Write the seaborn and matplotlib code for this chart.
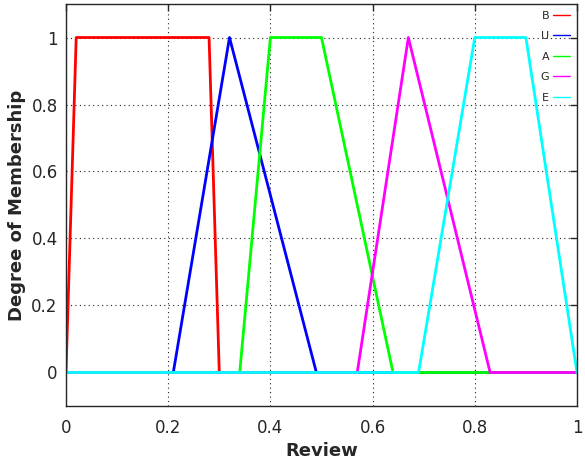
import pandas as pd
import matplotlib
matplotlib.use("Agg")
import matplotlib.pyplot as plt
import seaborn as sns

# membership functions (breakpoints on the Review axis)
labels = ["B", "U", "A", "G", "E"]
colors = ["#ff0000", "#0000ff", "#00ff00", "#ff00ff", "#00ffff"]
B_x = [0.0, 0.0, 0.02, 0.28, 0.30, 1.0]
B_y = [0, 0, 1, 1, 0, 0]
U_x = [0.0, 0.21, 0.32, 0.49, 1.0]
U_y = [0, 0, 1, 0, 0]
A_x = [0.0, 0.34, 0.40, 0.50, 0.64, 1.0]
A_y = [0, 0, 1, 1, 0, 0]
G_x = [0.0, 0.57, 0.67, 0.83, 1.0]
G_y = [0, 0, 1, 0, 0]
E_x = [0.0, 0.69, 0.80, 0.90, 1.0]
E_y = [0, 0, 1, 1, 0]

xs = [B_x, U_x, A_x, G_x, E_x]
ys = [B_y, U_y, A_y, G_y, E_y]

sns.set_style("white")
plt.rcParams["font.family"] = ["DejaVu Sans"]

fig = plt.figure(figsize=(5.85, 4.66), dpi=100)
ax = fig.add_axes([0.1128, 0.1288, 0.8735, 0.8626])

for lab, col, x, y in zip(labels, colors, xs, ys):
    df = pd.DataFrame({"Review": x, "mu": y})
    sns.lineplot(data=df, x="Review", y="mu", ax=ax, color=col, linewidth=2,
                 label=lab, sort=False, estimator=None)

ax.set_xlim(0, 1)
ax.set_ylim(-0.1, 1.1)
ticks = [0, 0.2, 0.4, 0.6, 0.8, 1]
tick_labels = ["0", "0.2", "0.4", "0.6", "0.8", "1"]
ax.set_xticks(ticks)
ax.set_xticklabels(tick_labels)
ax.set_yticks(ticks)
ax.set_yticklabels(tick_labels)
ax.tick_params(direction="in", top=True, right=True, length=5, width=1,
               labelsize=12, colors="#262626", pad=6)
ax.tick_params(axis="x", pad=9.5)
ax.grid(True, linestyle=(0, (1, 3)), color="#222222", linewidth=0.8)
for s in ax.spines.values():
    s.set_color("#262626")
    s.set_linewidth(1)

ax.set_xlabel("Review", fontsize=13, fontweight="bold", labelpad=3.5)
ax.set_ylabel("Degree of Membership", fontsize=13, fontweight="bold", labelpad=4)

leg = ax.legend(loc="upper right", frameon=False, markerfirst=False, fontsize=8,
                handlelength=1.6, handletextpad=0.3, labelspacing=0.95,
                borderaxespad=0.2)
for line in leg.get_lines():
    line.set_linewidth(1)

fig.savefig("out.png", dpi=100)
